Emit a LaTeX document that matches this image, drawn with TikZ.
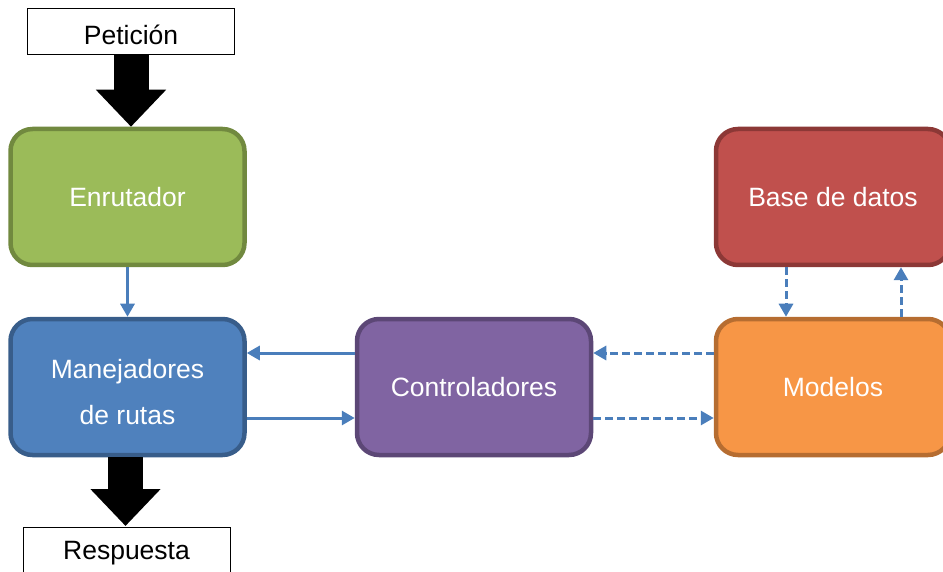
\documentclass[tikz,border=0pt]{standalone}
\usepackage{fontspec}
\setmainfont{Liberation Sans}
\usetikzlibrary{arrows.meta}

\definecolor{linkblue}{HTML}{4A7EBB}
\definecolor{greenfill}{HTML}{9BBB59}\definecolor{greenline}{HTML}{71893F}
\definecolor{bluefill}{HTML}{4F81BD}\definecolor{blueline}{HTML}{385D8A}
\definecolor{purplefill}{HTML}{8064A2}\definecolor{purpleline}{HTML}{5C4776}
\definecolor{redfill}{HTML}{C0504D}\definecolor{redline}{HTML}{8C3836}
\definecolor{orangefill}{HTML}{F79646}\definecolor{orangeline}{HTML}{B66D31}

% lower a label without changing the size of its box
\newcommand{\droptext}[2]{\raisebox{-#1}[\height][\depth]{#2}}

\tikzset{
  block/.style={rectangle, rounded corners=22pt, line width=4.5pt,
    minimum width=234pt, minimum height=136pt, text=white, align=center,
    font=\fontsize{26.5}{46}\selectfont, inner sep=0pt},
  endbox/.style={rectangle, draw=black, line width=1pt, fill=white,
    minimum width=207pt, minimum height=46pt, inner sep=0pt,
    font=\fontsize{26.5}{30}\selectfont},
  bigarrow/.style={line width=35pt, black,
    -{Triangle[width=68pt, length=37pt]}},
  link/.style={draw=linkblue, line width=3pt,
    -{Triangle[width=14pt, length=13pt]}},
  dashedlink/.style={link, dash pattern=on 8pt off 4pt}
}

\begin{document}
\begin{tikzpicture}[x=1pt, y=-1pt]
  \useasboundingbox (0,0) rectangle (943,572);
  \clip (0,0) rectangle (943,572);

  % request / response boxes
  \node[endbox] (pet) at (131,31.5) {\droptext{3pt}{Petición}};
  \node[endbox] (resp) at (126.5,550.5) {\droptext{3pt}{Respuesta}};

  % main blocks
  \node[block, fill=greenfill, draw=greenline] (enr) at (127.5,197) {Enrutador};
  \node[block, fill=bluefill, draw=blueline] (man) at (127.5,387)
    {\droptext{5pt}{\parbox{200pt}{\centering Manejadores\\de rutas}}};
  \node[block, fill=purplefill, draw=purpleline] (ctl) at (474,387) {Controladores};
  \node[block, fill=redfill, draw=redline] (bd) at (833,197) {Base de datos};
  \node[block, fill=orangefill, draw=orangeline] (mod) at (833,387) {Modelos};

  % thick request / response arrows
  \draw[bigarrow] (pet.south) -- (pet.south |- enr.north);
  \draw[bigarrow] ([xshift=-2pt]man.south) -- ([xshift=-2pt,yshift=1pt]man.south |- resp.north);

  % router to route handlers
  \draw[link] (enr.south) -- (man.north);

  % handlers <-> controllers
  \draw[link] ([yshift=34pt]ctl.west) -- ([yshift=34pt]man.east);
  \draw[link] ([yshift=-31pt]man.east) -- ([yshift=-31pt]ctl.west);

  % controllers <-> models
  \draw[dashedlink] ([yshift=34pt]mod.west) -- ([yshift=34pt]ctl.east);
  \draw[dashedlink] ([yshift=-31pt]ctl.east) -- ([yshift=-31pt]mod.west);

  % models <-> database
  \draw[dashedlink] ([xshift=-47pt]bd.south) -- ([xshift=-47pt]mod.north);
  \draw[dashedlink] ([xshift=68pt]mod.north) -- ([xshift=68pt]bd.south);
\end{tikzpicture}
\end{document}
